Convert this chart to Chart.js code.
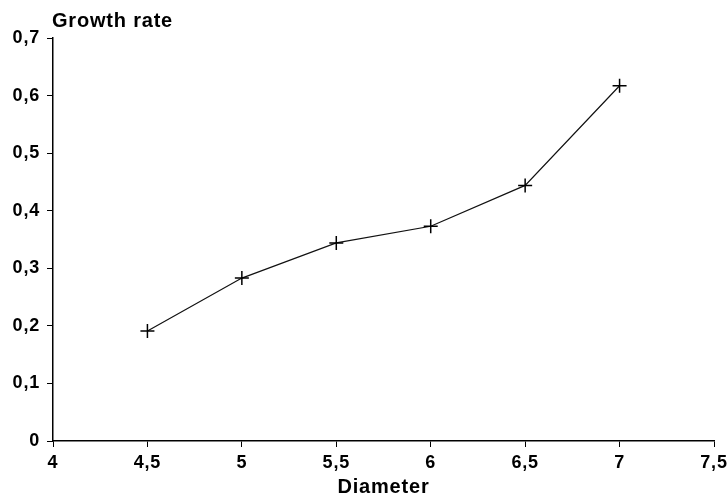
<!DOCTYPE html>
<html>
<head>
<meta charset="utf-8">
<style>
  html, body { margin: 0; padding: 0; background: #fff; }
  #wrap { width: 728px; height: 503px; }
</style>
<script src="https://cdn.jsdelivr.net/npm/chart.js@4/dist/chart.umd.min.js"></script>
</head>
<body>
<div id="wrap"><canvas id="chart" width="728" height="503"></canvas></div>
<script>
// values
const diameters = [4.5, 5, 5.5, 6, 6.5, 7];
const growthRates = [0.191, 0.283, 0.344, 0.373, 0.444, 0.617];
const xTitle = "Diameter";
const yTitle = "Growth rate";

const FONT = "'Liberation Sans', Arial, Helvetica, sans-serif";
const comma = (v) => (Math.round(v * 10) / 10).toString().replace(".", ",");

// the original lettering is spaced out a little
const spacing = {
    id: "spacing",
    beforeLayout(chart) { chart.ctx.letterSpacing = "0.8px"; },
    beforeDraw(chart) { chart.ctx.letterSpacing = "0.8px"; }
};

// draws the y axis caption above the axis, as in the original figure
const yCaption = {
    id: "yCaption",
    afterDraw(chart) {
        const { ctx, chartArea } = chart;
        ctx.save();
        ctx.fillStyle = "#000";
        ctx.font = "bold 20px " + FONT;
        ctx.textAlign = "left";
        ctx.textBaseline = "alphabetic";
        ctx.fillText(yTitle, chartArea.left - 1, 27);
        ctx.restore();
    }
};

new Chart(document.getElementById("chart"), {
    type: "line",
    data: {
        datasets: [{
            data: diameters.map((d, i) => ({ x: d, y: growthRates[i] })),
            borderColor: "#111",
            borderWidth: 1.2,
            tension: 0,
            fill: false,
            pointStyle: "cross",
            pointRadius: 7,
            pointBorderWidth: 1.5,
            pointBorderColor: "#000",
            pointBackgroundColor: "#000"
        }]
    },
    options: {
        responsive: false,
        animation: false,
        layout: { padding: { top: 38, right: 14, left: 0, bottom: 4 } },
        plugins: {
            legend: { display: false },
            tooltip: { enabled: false }
        },
        scales: {
            x: {
                type: "linear",
                min: 4,
                max: 7.5,
                afterFit: (s) => { s.height = 58; s.paddingRight = 0; s.paddingLeft = 0; },
                ticks: {
                    stepSize: 0.5,
                    color: "#000",
                    padding: 5,
                    maxRotation: 0,
                    font: { family: FONT, size: 18, weight: "bold" },
                    callback: comma
                },
                grid: { drawOnChartArea: false, drawTicks: true, tickLength: 6, color: "#000", lineWidth: 1 },
                border: { color: "#000", width: 1.5 },
                title: {
                    display: true,
                    text: xTitle,
                    color: "#000",
                    padding: { top: 3, bottom: 0 },
                    font: { family: FONT, size: 20, weight: "bold" }
                }
            },
            y: {
                min: 0,
                max: 0.7,
                afterFit: (s) => { s.width = 53; s.paddingTop = 0; s.paddingBottom = 0; },
                ticks: {
                    stepSize: 0.1,
                    color: "#000",
                    padding: 7,
                    font: { family: FONT, size: 18, weight: "bold" },
                    callback: comma
                },
                grid: { drawOnChartArea: false, drawTicks: true, tickLength: 6, color: "#000", lineWidth: 1 },
                border: { color: "#000", width: 1.5 }
            }
        }
    },
    plugins: [spacing, yCaption]
});
</script>
</body>
</html>
